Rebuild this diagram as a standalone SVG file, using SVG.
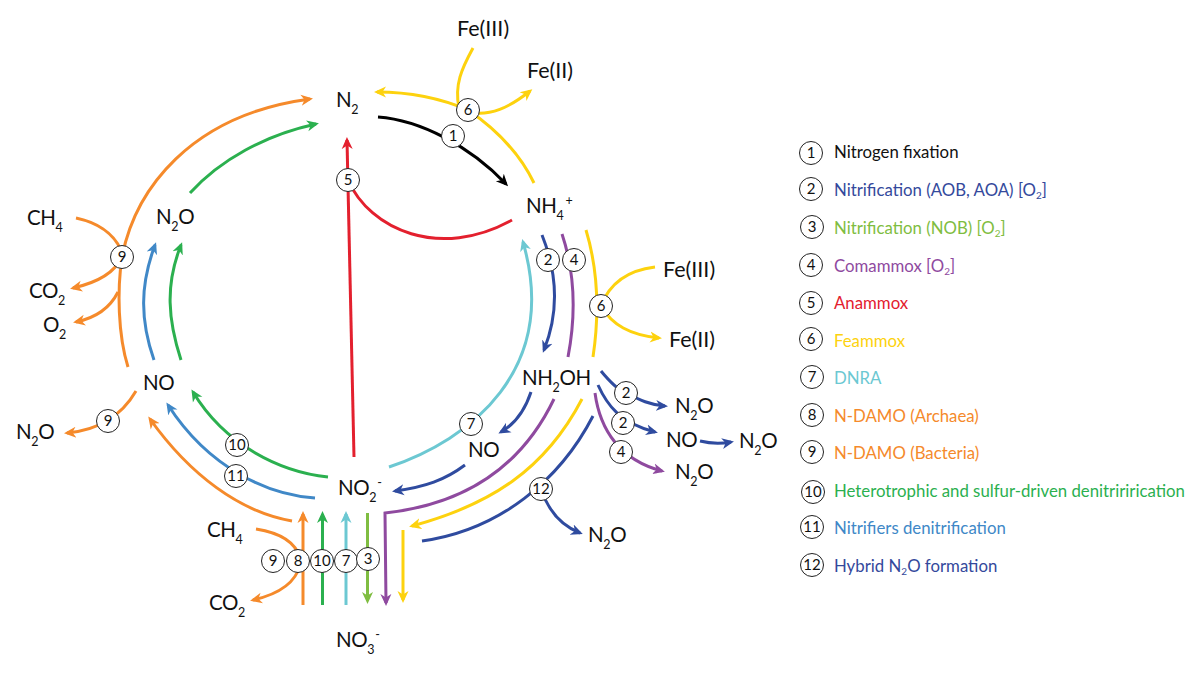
<svg xmlns="http://www.w3.org/2000/svg" width="1200" height="674" viewBox="0 0 1200 674">
<style>
text{font-family:"Lato","Open Sans","Liberation Sans",sans-serif}
.l{font-size:20.500px;letter-spacing:-.4px;fill:#111}
.f{font-size:21.500px;fill:#111}
.s{font-size:12.500px}
.n{font-size:15px;fill:#111;text-anchor:middle}
.t{font-size:16.800px}
.b{fill:#fff;stroke:#222;stroke-width:1}
#connectors path{fill:none;stroke-width:3}
.k{stroke:#000}.r{stroke:#e3202e}.y{stroke:#fdd20e}.o{stroke:#f58a2b}.g{stroke:#2bb04f}.u{stroke:#4088c7}.v{stroke:#2f4b9f}.c{stroke:#6cc8d2}.p{stroke:#8f4a9f}.e{stroke:#7fbd41}
.ak{marker-end:url(#mk)}.ar{marker-end:url(#mr)}.ay{marker-end:url(#my)}.ao{marker-end:url(#mo)}.ag{marker-end:url(#mg)}.au{marker-end:url(#mu)}.av{marker-end:url(#mv)}.ac{marker-end:url(#mc)}.ap{marker-end:url(#mp)}.ae{marker-end:url(#me)}
</style>
<defs>
<marker id="mk" markerUnits="userSpaceOnUse" markerWidth="14" markerHeight="14" refX="9" refY="7" orient="auto"><path d="M12,7L0,1.5L3.5,7L0,12.5Z" fill="#000"/></marker>
<marker id="mr" markerUnits="userSpaceOnUse" markerWidth="14" markerHeight="14" refX="9" refY="7" orient="auto"><path d="M12,7L0,1.5L3.5,7L0,12.5Z" fill="#e3202e"/></marker>
<marker id="my" markerUnits="userSpaceOnUse" markerWidth="14" markerHeight="14" refX="9" refY="7" orient="auto"><path d="M12,7L0,1.5L3.5,7L0,12.5Z" fill="#fdd20e"/></marker>
<marker id="mo" markerUnits="userSpaceOnUse" markerWidth="14" markerHeight="14" refX="9" refY="7" orient="auto"><path d="M12,7L0,1.5L3.5,7L0,12.5Z" fill="#f58a2b"/></marker>
<marker id="mg" markerUnits="userSpaceOnUse" markerWidth="14" markerHeight="14" refX="9" refY="7" orient="auto"><path d="M12,7L0,1.5L3.5,7L0,12.5Z" fill="#2bb04f"/></marker>
<marker id="mu" markerUnits="userSpaceOnUse" markerWidth="14" markerHeight="14" refX="9" refY="7" orient="auto"><path d="M12,7L0,1.5L3.5,7L0,12.5Z" fill="#4088c7"/></marker>
<marker id="mv" markerUnits="userSpaceOnUse" markerWidth="14" markerHeight="14" refX="9" refY="7" orient="auto"><path d="M12,7L0,1.5L3.5,7L0,12.5Z" fill="#2f4b9f"/></marker>
<marker id="mc" markerUnits="userSpaceOnUse" markerWidth="14" markerHeight="14" refX="9" refY="7" orient="auto"><path d="M12,7L0,1.5L3.5,7L0,12.5Z" fill="#6cc8d2"/></marker>
<marker id="mp" markerUnits="userSpaceOnUse" markerWidth="14" markerHeight="14" refX="9" refY="7" orient="auto"><path d="M12,7L0,1.5L3.5,7L0,12.5Z" fill="#8f4a9f"/></marker>
<marker id="me" markerUnits="userSpaceOnUse" markerWidth="14" markerHeight="14" refX="9" refY="7" orient="auto"><path d="M12,7L0,1.5L3.5,7L0,12.5Z" fill="#7fbd41"/></marker>
</defs>
<rect width="1200" height="674" fill="#fff"/>
<g id="connectors">
<path class="k ak" d="M378,117C420,120 470,146 506,184"/>
<path class="y ay" d="M468,110C440,98 410,92 377,92"/>
<path class="y" d="M468,110C490,125 518,150 534,183"/>
<path class="y" d="M473,48C462,68 454,85 459,108"/>
<path class="y ay" d="M468,112C490,117 510,107 530,91"/>
<path class="r ar" d="M354,457L347,140"/>
<path class="r" d="M348,180C370,230 440,260 512,220"/>
<path class="c ac" d="M389,467C470,440 560,370 523,242"/>
<path class="v av" d="M542,235C556,270 560,310 544,350"/>
<path class="p" d="M562,234C574,270 577,310 568,357"/>
<path class="y" d="M586,230C598,270 600,310 593,357"/>
<path class="y" d="M655,267C630,270 610,282 601,306"/>
<path class="y ay" d="M601,306C612,325 630,335 659,338"/>
<path class="v av" d="M531,392C525,410 515,424 501,432"/>
<path class="p ap" d="M554,399C520,470 460,505 385,513L386,603"/>
<path class="y ay" d="M582,399C545,470 490,505 412,526"/>
<path class="y ay" d="M403,530L403,600"/>
<path class="v" d="M593,416C560,480 500,530 422,541"/>
<path class="v av" d="M541,489C548,510 560,525 580,533"/>
<path class="v av" d="M601,371C610,382 618,390 626,393C640,400 650,405 665,406"/>
<path class="v av" d="M598,385C607,405 620,423 655,432"/>
<path class="v av" d="M700,441C712,444 720,444 731,442"/>
<path class="p ap" d="M595,393C600,430 620,460 662,471"/>
<path class="v av" d="M465,465C445,480 425,487 395,491"/>
<path class="o ao" d="M303,605L303,514"/>
<path class="g ag" d="M322.500,605L322.500,514"/>
<path class="c ac" d="M346,605L346,514"/>
<path class="e ae" d="M367.500,513L367.500,601"/>
<path class="o" d="M256,529C275,532 295,540 300,558"/>
<path class="o ao" d="M300,565C295,585 275,595 253,600"/>
<path class="o ao" d="M292,521C240,512 190,475 150,419"/>
<path class="u au" d="M315,498C270,495 210,470 168,405"/>
<path class="g ag" d="M328,477C280,472 225,445 193,392"/>
<path class="o" d="M128,367C118,335 117,290 122,257"/>
<path class="o ao" d="M122,257C135,190 190,115 310,99"/>
<path class="g ag" d="M190,193C220,160 265,135 316,124"/>
<path class="u au" d="M154,360C140,320 140,285 155,245"/>
<path class="g ag" d="M181,360C168,320 165,285 181,245"/>
<path class="o" d="M76,218C95,222 113,232 121,250"/>
<path class="o ao" d="M122,257C115,272 100,282 73,288"/>
<path class="o ao" d="M118,292C110,308 95,318 76,322"/>
<path class="o ao" d="M136,391C122,415 100,430 67,433"/>
</g>
<g id="n-N2"><text class="l" x="336" y="107">N<tspan class="s" dy="7">2</tspan></text></g>
<g id="n-NH4"><text class="l" x="526" y="213">NH<tspan class="s" dy="7">4</tspan><tspan class="s" dy="-15" dx="2">+</tspan></text></g>
<g id="n-FeIII-top"><text class="f" x="457" y="36">Fe(III)</text></g>
<g id="n-FeII-top"><text class="f" x="527" y="78">Fe(II)</text></g>
<g id="n-FeIII-right"><text class="f" x="663" y="277">Fe(III)</text></g>
<g id="n-FeII-right"><text class="f" x="669" y="347">Fe(II)</text></g>
<g id="n-NH2OH"><text class="l" x="522" y="385">NH<tspan class="s" dy="7">2</tspan><tspan dy="-7">OH</tspan></text></g>
<g id="n-NO-mid"><text class="l" x="468" y="457">NO</text></g>
<g id="n-N2O-a"><text class="l" x="675" y="413">N<tspan class="s" dy="7">2</tspan><tspan dy="-7">O</tspan></text></g>
<g id="n-NO-b"><text class="l" x="666" y="447">NO</text></g>
<g id="n-N2O-b"><text class="l" x="739" y="448">N<tspan class="s" dy="7">2</tspan><tspan dy="-7">O</tspan></text></g>
<g id="n-N2O-c"><text class="l" x="675" y="479">N<tspan class="s" dy="7">2</tspan><tspan dy="-7">O</tspan></text></g>
<g id="n-N2O-d"><text class="l" x="588" y="542">N<tspan class="s" dy="7">2</tspan><tspan dy="-7">O</tspan></text></g>
<g id="n-NO2"><text class="l" x="338" y="495">NO<tspan class="s" dy="7">2</tspan><tspan class="s" dy="-15" dx="1">-</tspan></text></g>
<g id="n-NO3"><text class="l" x="336" y="647">NO<tspan class="s" dy="7">3</tspan><tspan class="s" dy="-15" dx="1">-</tspan></text></g>
<g id="n-CH4-b"><text class="l" x="207" y="537">CH<tspan class="s" dy="7">4</tspan></text></g>
<g id="n-CO2-b"><text class="l" x="209" y="610">CO<tspan class="s" dy="7">2</tspan></text></g>
<g id="n-CH4-l"><text class="l" x="27" y="225">CH<tspan class="s" dy="7">4</tspan></text></g>
<g id="n-CO2-l"><text class="l" x="29" y="298">CO<tspan class="s" dy="7">2</tspan></text></g>
<g id="n-O2-l"><text class="l" x="43" y="332">O<tspan class="s" dy="7">2</tspan></text></g>
<g id="n-N2O-top"><text class="l" x="156" y="224">N<tspan class="s" dy="7">2</tspan><tspan dy="-7">O</tspan></text></g>
<g id="n-NO-l"><text class="l" x="143" y="390">NO</text></g>
<g id="n-N2O-l"><text class="l" x="16" y="439">N<tspan class="s" dy="7">2</tspan><tspan dy="-7">O</tspan></text></g>

<g id="b1"><circle class="b" cx="453" cy="136" r="11.500"/><text class="n" x="453" y="141">1</text></g>
<g id="b6a"><circle class="b" cx="468" cy="110" r="11.500"/><text class="n" x="468" y="115">6</text></g>
<g id="b5"><circle class="b" cx="348" cy="180" r="11.500"/><text class="n" x="348" y="185">5</text></g>
<g id="b2a"><circle class="b" cx="548" cy="260" r="11.500"/><text class="n" x="548" y="265">2</text></g>
<g id="b4a"><circle class="b" cx="574" cy="260" r="11.500"/><text class="n" x="574" y="265">4</text></g>
<g id="b6b"><circle class="b" cx="601" cy="306" r="11.500"/><text class="n" x="601" y="311">6</text></g>
<g id="b2b"><circle class="b" cx="626" cy="393" r="11.500"/><text class="n" x="626" y="398">2</text></g>
<g id="b2c"><circle class="b" cx="623" cy="423" r="11.500"/><text class="n" x="623" y="428">2</text></g>
<g id="b4b"><circle class="b" cx="621" cy="452" r="11.500"/><text class="n" x="621" y="457">4</text></g>
<g id="b7a"><circle class="b" cx="471" cy="424" r="11.500"/><text class="n" x="471" y="429">7</text></g>
<g id="b12"><circle class="b" cx="541" cy="489" r="11.500"/><text class="n" x="541" y="494">12</text></g>
<g id="b10a"><circle class="b" cx="237" cy="445" r="11.500"/><text class="n" x="237" y="450">10</text></g>
<g id="b11"><circle class="b" cx="236" cy="476" r="11.500"/><text class="n" x="236" y="481">11</text></g>
<g id="b9a"><circle class="b" cx="273" cy="561" r="11.500"/><text class="n" x="273" y="566">9</text></g>
<g id="b8"><circle class="b" cx="298" cy="561" r="11.500"/><text class="n" x="298" y="566">8</text></g>
<g id="b10b"><circle class="b" cx="322" cy="561" r="11.500"/><text class="n" x="322" y="566">10</text></g>
<g id="b7b"><circle class="b" cx="346" cy="561" r="11.500"/><text class="n" x="346" y="566">7</text></g>
<g id="b3"><circle class="b" cx="368" cy="559" r="11.500"/><text class="n" x="368" y="564">3</text></g>
<g id="b9b"><circle class="b" cx="122" cy="257" r="11.500"/><text class="n" x="122" y="262">9</text></g>
<g id="b9c"><circle class="b" cx="108" cy="421" r="11.500"/><text class="n" x="108" y="426">9</text></g>

<g id="legend">
<g id="lg1"><circle class="b" cx="811" cy="153" r="11.500"/><text class="n" x="811" y="158">1</text><text class="t" x="834" y="158" fill="#111">Nitrogen fixation</text></g>
<g id="lg2"><circle class="b" cx="811" cy="189" r="11.500"/><text class="n" x="811" y="194">2</text><text class="t" x="834" y="196" fill="#34499c">Nitrification (AOB, AOA) [O<tspan font-size="10" dy="3">2</tspan><tspan dy="-3">]</tspan></text></g>
<g id="lg3"><circle class="b" cx="812" cy="227" r="11.500"/><text class="n" x="812" y="232">3</text><text class="t" x="834" y="234" fill="#7fbd41">Nitrification (NOB) [O<tspan font-size="10" dy="3">2</tspan><tspan dy="-3">]</tspan></text></g>
<g id="lg4"><circle class="b" cx="811" cy="265" r="11.500"/><text class="n" x="811" y="270">4</text><text class="t" x="834" y="272" fill="#8f4a9f">Comammox [O<tspan font-size="10" dy="3">2</tspan><tspan dy="-3">]</tspan></text></g>
<g id="lg5"><circle class="b" cx="811" cy="303" r="11.500"/><text class="n" x="811" y="308">5</text><text class="t" x="834" y="309" fill="#e3202e">Anammox</text></g>
<g id="lg6"><circle class="b" cx="811" cy="339" r="11.500"/><text class="n" x="811" y="344">6</text><text class="t" x="834" y="347" fill="#fdd20e">Feammox</text></g>
<g id="lg7"><circle class="b" cx="812" cy="377" r="11.500"/><text class="n" x="812" y="382">7</text><text class="t" x="834" y="384" fill="#6cc8d2">DNRA</text></g>
<g id="lg8"><circle class="b" cx="812" cy="415" r="11.500"/><text class="n" x="812" y="420">8</text><text class="t" x="834" y="422" fill="#f58a2b">N-DAMO (Archaea)</text></g>
<g id="lg9"><circle class="b" cx="812" cy="452" r="11.500"/><text class="n" x="812" y="457">9</text><text class="t" x="834" y="459" fill="#f58a2b">N-DAMO (Bacteria)</text></g>
<g id="lg10"><circle class="b" cx="813" cy="492" r="11.500"/><text class="n" x="813" y="497">10</text><text class="t" x="834" y="497" fill="#2bb04f">Heterotrophic and sulfur-driven denitririrication</text></g>
<g id="lg11"><circle class="b" cx="812" cy="527" r="11.500"/><text class="n" x="812" y="532">11</text><text class="t" x="834" y="534" fill="#4088c7">Nitrifiers denitrification</text></g>
<g id="lg12"><circle class="b" cx="812" cy="565" r="11.500"/><text class="n" x="812" y="570">12</text><text class="t" x="834" y="572" fill="#34499c">Hybrid N<tspan font-size="10" dy="3">2</tspan><tspan dy="-3">O formation</tspan></text></g>
</g>
</svg>
